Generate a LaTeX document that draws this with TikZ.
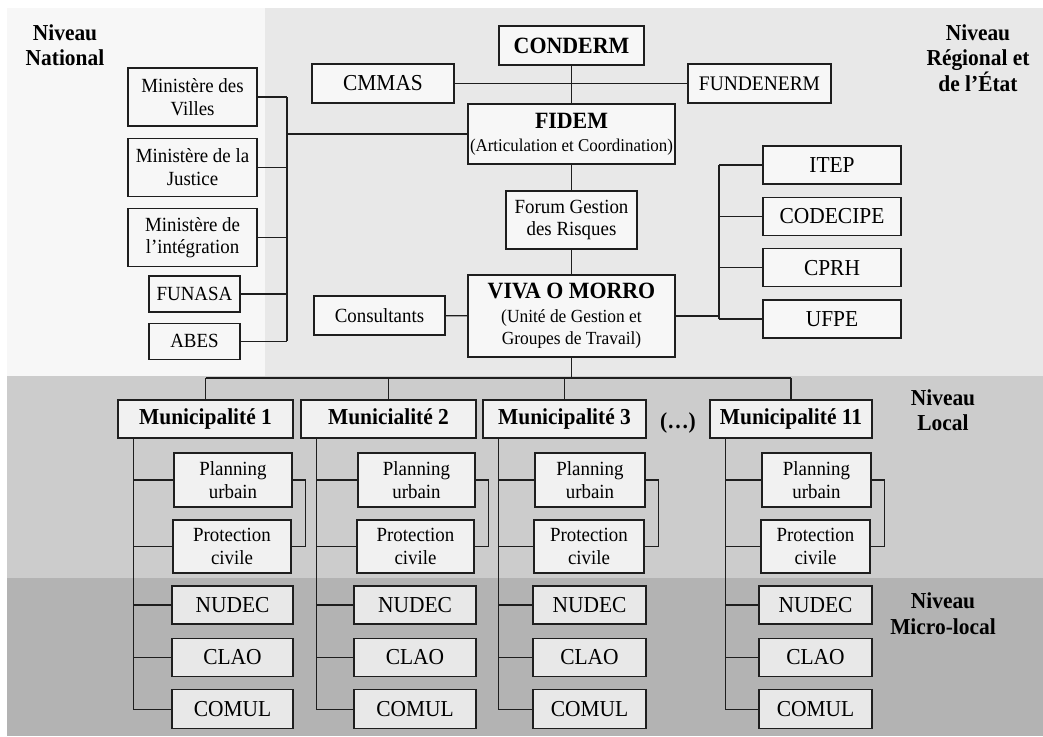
\documentclass[tikz,border=0pt]{standalone}
\usepackage{fontspec}
\setmainfont[FakeStretch=0.94]{Liberation Serif}
\usepackage{xcolor}
\definecolor{natgray}{HTML}{F7F7F7}
\definecolor{reggray}{HTML}{E8E8E8}
\definecolor{locgray}{HTML}{CCCCCC}
\definecolor{micgray}{HTML}{B3B3B3}
\definecolor{boxline}{HTML}{1E1E1E}
\definecolor{boxfill}{HTML}{F7F7F7}
\definecolor{locfill}{HTML}{F1F1F1}
\definecolor{micfill}{HTML}{E8E8E8}
\usepackage{tikz}
\usetikzlibrary{positioning, calc}
\tikzset{
  orgbox/.style ={rectangle, draw=boxline, line width=1.3pt, fill=boxfill, text=black, align=center,
                  inner sep=0pt, minimum height=39pt, font=\fontsize{22.8}{24}\selectfont},
  orgboxs/.style={orgbox, font=\fontsize{20.1}{22.5}\selectfont},
  munbox/.style ={orgbox, fill=locfill, minimum height=38pt, text height=16pt, text depth=5pt,
                  font=\bfseries\fontsize{22.8}{24}\selectfont},
  locbox/.style ={orgboxs, fill=locfill},
  micbox/.style ={orgbox, fill=micfill, minimum height=38pt},
  lvllbl/.style ={align=center, inner sep=0pt, font=\bfseries\fontsize{22.8}{25.5}\selectfont},
  cline/.style  ={line width=1.2pt, color=boxline},
}

\begin{document}
\begin{tikzpicture}[x=1pt, y=-1pt]
  \useasboundingbox (0,0) rectangle (1043,736);
  % bands
  \fill[natgray] (7,8) rectangle (265,376);
  \fill[reggray] (265,8) rectangle (1043,376);
  \fill[locgray] (7,376) rectangle (1043,578);
  \fill[micgray] (7,578) rectangle (1043,736);
  % level labels
  \node[lvllbl] (lnat) at (65,45) {Niveau\\National};
  \node[lvllbl] (lreg) at (978,58) {Niveau\\Régional et\\de l’État};
  \node[lvllbl] (lloc) at (943,410) {Niveau\\Local};
  \node[lvllbl] (lmic) at (943,613.5) {Niveau\\Micro-local};
  % regional level
  \node[orgbox, minimum width=145pt, font=\bfseries\fontsize{23.3}{24}\selectfont] (conderm) at (571.5,45.5) {CONDERM};
  \node[orgbox, minimum width=142pt] (cmmas) at (383,83.5) {CMMAS};
  \node[orgbox, minimum width=143pt, font=\fontsize{20.7}{22}\selectfont] (fundenerm) at (759.5,83.5) {FUNDENERM};
  \node[orgbox, minimum width=207pt, minimum height=60pt, font=\fontsize{18}{23}\selectfont] (fidem) at (571.5,134)
       {{\bfseries\fontsize{23.3}{23}\selectfont FIDEM}\\(Articulation et Coordination)};
  \node[orgboxs, minimum width=131pt, minimum height=58pt] (forum) at (571.5,220) {Forum Gestion\\des Risques};
  \node[orgbox, minimum width=207pt, minimum height=82pt, font=\fontsize{18.5}{22}\selectfont] (viva) at (571.5,316)
       {{\bfseries\fontsize{23.3}{22}\selectfont VIVA O MORRO}\\[2pt](Unité de Gestion et\\Groupes de Travail)};
  \node[orgboxs, minimum width=131pt] (consult) at (379.5,315.5) {Consultants};
  \node[orgbox, minimum width=138pt, minimum height=38pt] (itep) at (832,165) {ITEP};
  \node[orgbox, minimum width=138pt, minimum height=38pt, below=12pt of itep] (codecipe) {CODECIPE};
  \node[orgbox, minimum width=138pt, minimum height=38pt, below=12pt of codecipe] (cprh) {CPRH};
  \node[orgbox, minimum width=138pt, minimum height=38pt, below=12pt of cprh] (ufpe) {UFPE};
  % national level
  \node[orgboxs, minimum width=129pt, minimum height=58pt] (villes) at (192.5,97) {Ministère des\\Villes};
  \node[orgboxs, minimum width=129pt, minimum height=58pt, below=11pt of villes] (justice) {Ministère de la\\Justice};
  \node[orgboxs, minimum width=129pt, minimum height=58pt, below=11pt of justice] (integ) {Ministère de\\l’intégration};
  \node[orgboxs, minimum width=91pt, minimum height=36pt] (funasa) at (194.5,294) {FUNASA};
  \node[orgboxs, minimum width=91pt, minimum height=36pt, below=10pt of funasa] (abes) {ABES};
  % connectors, upper part
  \draw[cline] (conderm) -- (fidem); \draw[cline] (cmmas) -- (fundenerm);
  \draw[cline] (fidem) -- (forum) -- (viva); \draw[cline] (consult) -- (viva);
  \coordinate (natbus) at (287,133);
  \draw[cline] (fidem.west) -- (fidem.west -| natbus);
  \draw[cline] (villes.east -| natbus) -- (abes.east -| natbus);
  \foreach \nm in {villes,justice,integ,funasa,abes} \draw[cline] (\nm.east) -- (\nm.east -| natbus);
  \coordinate (regbus) at (719,315);
  \draw[cline] (viva.east) -- (viva.east -| regbus);
  \draw[cline] (itep.west -| regbus) -- (ufpe.west -| regbus);
  \foreach \nm in {itep,codecipe,cprh,ufpe} \draw[cline] (\nm.west) -- (\nm.west -| regbus);
  % local and micro-local levels
  \coordinate (munbus) at (572,378);
  \draw[cline] (viva.south) -- (viva.south |- munbus);
  \foreach \i/\cx/\w/\pw/\nw/\name in {1/205.5/175/118/121/Municipalité 1, 2/388.5/175/117/122/Municialité 2,
                                       3/564.5/163/110/113/Municipalité 3, 4/791/162/109/113/Municipalité 11} {
    \node[munbox, minimum width=\w pt] (mun\i) at (\cx,419) {\name};
    \node[locbox, minimum width=\pw pt, minimum height=54pt, anchor=east] (plan\i) at ($(mun\i.east)+(-1,61)$) {Planning\\urbain};
    \node[locbox, minimum width=\pw pt, minimum height=53pt, anchor=east] (prot\i) at ($(mun\i.east)+(-2,127.5)$) {Protection\\civile};
    \node[micbox, minimum width=\nw pt, anchor=east] (nudec\i) at ($(mun\i.east)+(0,186)$) {NUDEC};
    \node[micbox, minimum width=\nw pt, below=13pt of nudec\i] (clao\i) {CLAO};
    \node[micbox, minimum width=\nw pt, minimum height=39pt, below=12pt of clao\i] (comul\i) {COMUL};
    \coordinate (sp\i) at ($(mun\i.south west)+(16,0)$);
    \draw[cline] (sp\i) |- (comul\i.west);
    \foreach \nm in {plan,prot,nudec,clao} \draw[cline] (sp\i |- \nm\i.west) -- (\nm\i.west);
    \draw[cline] (plan\i.east) -| ($(mun\i.east |- prot\i.east)+(12,0)$) -- (prot\i.east);
    \draw[cline] (mun\i.north) -- (mun\i.north |- munbus);
  }
  \draw[cline] (mun1.north |- munbus) -- (mun4.north |- munbus);
  \node[font=\bfseries\fontsize{22.8}{24}\selectfont] (dots) at (678,423) {(…)};
\end{tikzpicture}
\end{document}
